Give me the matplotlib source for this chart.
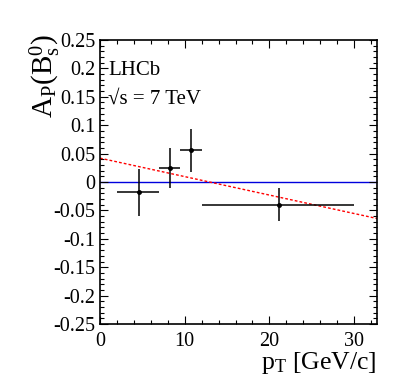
import matplotlib
matplotlib.use("Agg")
import matplotlib.pyplot as plt
import numpy as np
from matplotlib.ticker import MultipleLocator

plt.rcParams['font.family'] = ['Liberation Serif', 'DejaVu Serif']
plt.rcParams['mathtext.fontset'] = 'custom'
plt.rcParams['mathtext.rm'] = 'Liberation Serif'
plt.rcParams['mathtext.it'] = 'Liberation Serif'

# data
pt_center = [4.6, 8.3, 10.8, 21.1]
pt_low = [2.0, 7.0, 9.5, 12.0]
pt_high = [7.0, 9.5, 12.0, 30.0]
asym = [-0.018, 0.024, 0.056, -0.040]
asym_err = [0.041, 0.035, 0.038, 0.029]
fit_intercept = 0.042
fit_slope = -0.00325
xlim = (0, 32.7)
ylim = (-0.25, 0.25)
x_ticks = [0, 10, 20, 30]
y_ticks = [-0.25, -0.2, -0.15, -0.1, -0.05, 0, 0.05, 0.1, 0.15, 0.2, 0.25]
y_tick_labels = ['-0.25', '-0.2', '-0.15', '-0.1', '-0.05', '0', '0.05', '0.1', '0.15', '0.2', '0.25']

fig = plt.figure(figsize=(3.99, 3.88), dpi=100)
ax = fig.add_axes([100/399, 1-324/388, 277/399, 284/388])

xs = np.array(xlim)
ax.plot(xs, [0, 0], color='#0000dd', lw=1.0, zorder=1)
ax.plot(xs, fit_intercept + fit_slope*xs, color='red', lw=1.0, ls=(0, (2, 1.5)), zorder=2)

xerr = [np.array(pt_center) - np.array(pt_low), np.array(pt_high) - np.array(pt_center)]
ax.errorbar(pt_center, asym, xerr=xerr, yerr=asym_err, fmt='o', color='black',
            ms=2.5, elinewidth=1.1, capsize=0, zorder=3)

ax.set_xlim(*xlim)
ax.set_ylim(*ylim)
ax.set_xticks(x_ticks)
ax.set_xticklabels([str(v) for v in x_ticks])
ax.set_yticks(y_ticks)
ax.set_yticklabels(y_tick_labels)
ax.xaxis.set_minor_locator(MultipleLocator(2))
ax.yaxis.set_minor_locator(MultipleLocator(0.01))
ax.tick_params(which='both', direction='in', top=True, right=True, width=0.8, labelsize=14.5)
ax.tick_params(axis='y', pad=3.5)
ax.tick_params(axis='x', pad=6)
ax.tick_params(which='major', length=6)
ax.tick_params(which='minor', length=3)
for s in ax.spines.values():
    s.set_linewidth(1.2)

ax.set_xlabel(r'p$_{\mathrm{T}}$ [GeV/c]', fontsize=18.5, loc='right', labelpad=-1)
ax.set_ylabel(r'A$_{\mathrm{P}}$(B$_{\mathrm{s}}^{0}$)', fontsize=21, loc='top')
ax.yaxis.set_label_coords(-0.135, 1.02)

ax.text(0.03, 0.877, 'LHCb', transform=ax.transAxes, fontsize=15, va='baseline', ha='left')
ax.text(0.03, 0.777, '\u221as = 7 TeV', transform=ax.transAxes, fontsize=15, va='baseline', ha='left')

fig.savefig('out.png', dpi=100)
